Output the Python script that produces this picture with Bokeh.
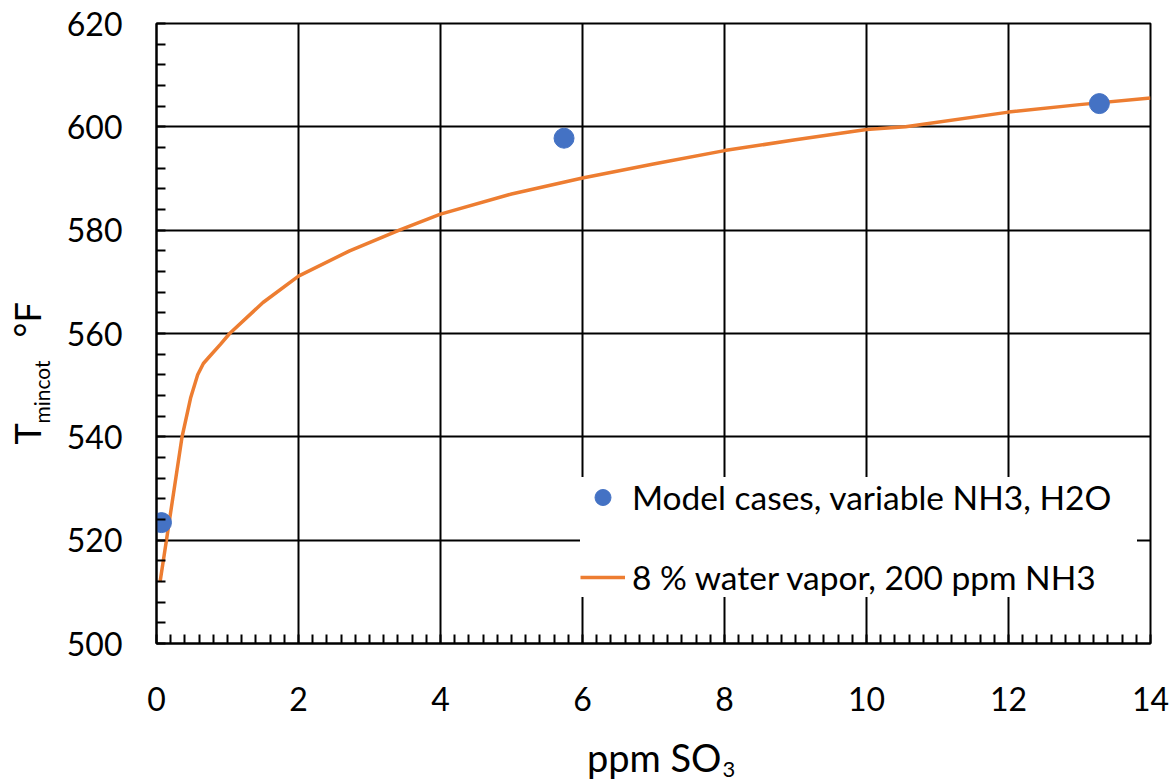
import math

from bokeh.embed import file_html
from bokeh.layouts import column, row
from bokeh.models import Label, Legend, LegendItem, Range1d, SingleIntervalTicker
from bokeh.plotting import figure
from bokeh.resources import INLINE

# Model cases (variable NH3, H2O)
so3_model = [0.07, 5.74, 13.28]
tmin_model = [523.4, 597.8, 604.5]

# Reference curve: 8 % water vapor, 200 ppm NH3
so3_curve = [0.05, 0.14, 0.25, 0.36, 0.48, 0.58, 0.66, 0.75, 0.9, 1.03, 1.5,
             2.0, 2.72, 3.42, 4.0, 5.0, 6.0, 7.0, 8.0, 9.0, 10.0, 10.55, 12.0,
             13.0, 14.0]
tmin_curve = [511.9, 520.0, 530.0, 540.0, 547.5, 552.0, 554.2, 555.6, 557.9,
              560.0, 566.0, 571.1, 576.0, 580.0, 583.1, 587.0, 590.1, 592.8,
              595.4, 597.5, 599.5, 600.0, 602.85, 604.3, 605.6]

x_start, x_end, x_step = 0, 14, 2
y_start, y_end, y_step = 500, 620, 20

FONT = "Lato"
BLUE = "#4472C4"
ORANGE = "#ED7D31"

W, H = 1175, 781          # whole page
YT_W = 60                 # strip holding the y title
XT_H = 51                 # strip holding the x title
PW, PH = W - YT_W, H - XT_H

# ---- main chart -------------------------------------------------------
p = figure(width=PW, height=PH, output_backend="svg", toolbar_location=None,
           x_range=Range1d(x_start, x_end), y_range=Range1d(y_start, y_end),
           min_border_left=96, min_border_right=25,
           min_border_top=23, min_border_bottom=87, frame_align=False)
p.background_fill_color = "white"
p.border_fill_color = "white"
p.outline_line_color = "black"
p.outline_line_width = 2

p.xaxis.ticker = SingleIntervalTicker(interval=x_step, num_minor_ticks=10)
p.yaxis.ticker = SingleIntervalTicker(interval=y_step, num_minor_ticks=5)
for ax in (p.xaxis, p.yaxis):
    ax.axis_line_color = "black"
    ax.axis_line_width = 2
    ax.major_tick_in = 0
    ax.major_tick_out = 0
    ax.minor_tick_in = 9
    ax.minor_tick_out = 0
    ax.minor_tick_line_color = "black"
    ax.minor_tick_line_width = 2
    ax.major_label_text_font = FONT
    ax.major_label_text_font_size = "32px"
    ax.major_label_text_color = "black"
p.xaxis.major_label_standoff = 43
p.yaxis.major_label_standoff = 34

for g in (p.xgrid, p.ygrid):
    g.grid_line_color = "black"
    g.grid_line_width = 2
    g.grid_line_alpha = 1.0

curve = p.line(so3_curve, tmin_curve, line_color=ORANGE, line_width=3.5,
               line_join="round")
pts = p.scatter(so3_model, tmin_model, marker="circle", size=20,
                fill_color=BLUE, line_color=BLUE)

legend = Legend(items=[
    LegendItem(label="Model cases, variable NH3, H2O", renderers=[pts]),
    LegendItem(label="8 % water vapor, 200 ppm NH3", renderers=[curve]),
], location=(424, 46))
legend.label_text_font = FONT
legend.label_text_font_size = "33.5px"
legend.label_text_color = "black"
legend.glyph_width = 45
legend.glyph_height = 40
legend.label_height = 40
legend.label_width = 505
legend.label_standoff = 7
legend.spacing = 40
legend.padding = 15
legend.margin = 0
legend.border_line_color = None
legend.background_fill_color = "white"
legend.background_fill_alpha = 1.0
p.add_layout(legend, "center")


# ---- title strips (pixel coordinates, y measured from the top) --------
def strip(width, height, top):
    f = figure(width=width, height=height, output_backend="svg",
               toolbar_location=None, x_axis_type=None, y_axis_type=None,
               x_range=Range1d(0, width), y_range=Range1d(top + height, top),
               min_border=0, frame_align=False)
    f.outline_line_color = None
    f.background_fill_color = "white"
    f.border_fill_color = "white"
    return f


def text(f, x, y, s, size_px, angle=0.0, align="left"):
    # (x, y) is the start of the baseline; labels are anchored on their
    # middle, so step back from the baseline by about 0.43 em
    shift = 0.43 * size_px
    if angle:
        x -= shift
    else:
        y -= shift
    f.add_layout(Label(x=x, y=y, text=s, angle=angle, text_align=align,
                       text_baseline="middle", text_font=FONT,
                       text_font_size=f"{size_px}px", text_color="black"))


# y title: T_mincot °F, reading upwards
ytitle = strip(YT_W, PH, 0)
up = math.pi / 2
text(ytitle, 42, 444, "T", 36, up)
text(ytitle, 50, 423, "mincot", 21, up)
text(ytitle, 42, 337, "°F", 36, up)

# x title: ppm SO3
xtitle = strip(W, XT_H, PH)
text(xtitle, 721, 773, "ppm SO", 38, align="right")
text(xtitle, 722, 778, "3", 22)

page = column(row(ytitle, p), xtitle)
open("out.html", "w").write(file_html(page, INLINE))
